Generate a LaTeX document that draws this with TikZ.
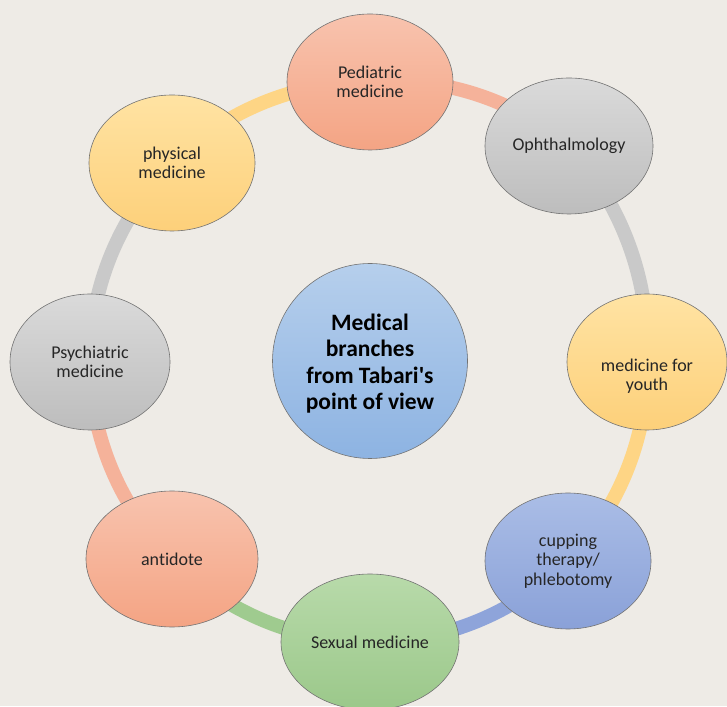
\documentclass[tikz,border=0pt]{standalone}
\usepackage{fontspec}
\setmainfont{Carlito}[Ligatures=NoCommon]
\usetikzlibrary{shapes.geometric,backgrounds}
\definecolor{paper}{HTML}{EEEBE6}
\definecolor{salmontop}{HTML}{F8C3AE}
\definecolor{salmonbot}{HTML}{F4A484}
\definecolor{graytop}{HTML}{DADADA}
\definecolor{graybot}{HTML}{BDBDBD}
\definecolor{yellowtop}{HTML}{FFE3A3}
\definecolor{yellowbot}{HTML}{FDD07A}
\definecolor{bluetop}{HTML}{AABDE6}
\definecolor{bluebot}{HTML}{8AA1D8}
\definecolor{greentop}{HTML}{B8DAAA}
\definecolor{greenbot}{HTML}{9BC88A}
\definecolor{hubtop}{HTML}{B6CFEC}
\definecolor{hubbot}{HTML}{8DB3E2}
\definecolor{salmonarc}{HTML}{F5B29A}
\definecolor{grayarc}{HTML}{C9C9C9}
\definecolor{yellowarc}{HTML}{FED585}
\definecolor{bluearc}{HTML}{8EA4DA}
\definecolor{greenarc}{HTML}{9FCB8F}

\begin{document}
\begin{tikzpicture}[x=1pt,y=1pt,
    branch/.style={ellipse, draw=black!55, line width=0.6pt, minimum width=166pt,
      minimum height=136pt, inner sep=0pt, align=center, text=black!85,
      font=\fontsize{18}{19.5}\selectfont},
    salmonfill/.style={top color=salmontop, bottom color=salmonbot},
    grayfill/.style={top color=graytop, bottom color=graybot},
    yellowfill/.style={top color=yellowtop, bottom color=yellowbot},
    bluefill/.style={top color=bluetop, bottom color=bluebot},
    greenfill/.style={top color=greentop, bottom color=greenbot},
    ring/.style={line width=14pt, draw=#1, bend left=22.5, looseness=0.886},
  ]
    \useasboundingbox (0,0) rectangle (727,706);
    \clip (0,0) rectangle (727,706);

    % Centre
    \node[circle, draw=black!55, line width=0.6pt, minimum size=195pt, inner sep=0pt,
      top color=hubtop, bottom color=hubbot, align=center, text=black,
      font=\fontsize{23.5}{26.5}\selectfont\bfseries] (hub) at (370,345)
      {\rule{0pt}{22pt}Medical\\branches\\from Tabari\textquotesingle s\\point of view};

    % Branches round the ring
    \node[branch, salmonfill] (pediatric) at (370,624) {Pediatric\\medicine};
    \node[branch, grayfill, minimum width=168pt] (ophth) at (569,560) {Ophthalmology};
    \node[branch, yellowfill, minimum width=160pt] (youth) at (647,344)
      {\rule{0pt}{41pt}medicine for\\youth};
    \node[branch, bluefill] (cupping) at (568,145) {cupping\\therapy/\\phlebotomy};
    \node[branch, greenfill, minimum width=178pt] (sexual) at (370,64) {Sexual medicine};
    \node[branch, salmonfill, minimum width=172pt] (antidote) at (172,147) {antidote};
    \node[branch, grayfill, minimum width=160pt] (psych) at (90,344) {Psychiatric\\medicine};
    \node[branch, yellowfill] (physical) at (172,543) {physical\\medicine};

    \begin{scope}[on background layer]
      \fill[paper] (0,0) rectangle (727,706);
      % Ring segments
      \draw[ring=salmonarc] (pediatric.center) to (ophth.center);
      \draw[ring=grayarc] (ophth.center) to (youth.center);
      \draw[ring=yellowarc] (youth.center) to (cupping.center);
      \draw[ring=bluearc] (cupping.center) to (sexual.center);
      \draw[ring=greenarc] (sexual.center) to (antidote.center);
      \draw[ring=salmonarc] (antidote.center) to (psych.center);
      \draw[ring=grayarc] (psych.center) to (physical.center);
      \draw[ring=yellowarc] (physical.center) to (pediatric.center);
    \end{scope}
\end{tikzpicture}
\end{document}
